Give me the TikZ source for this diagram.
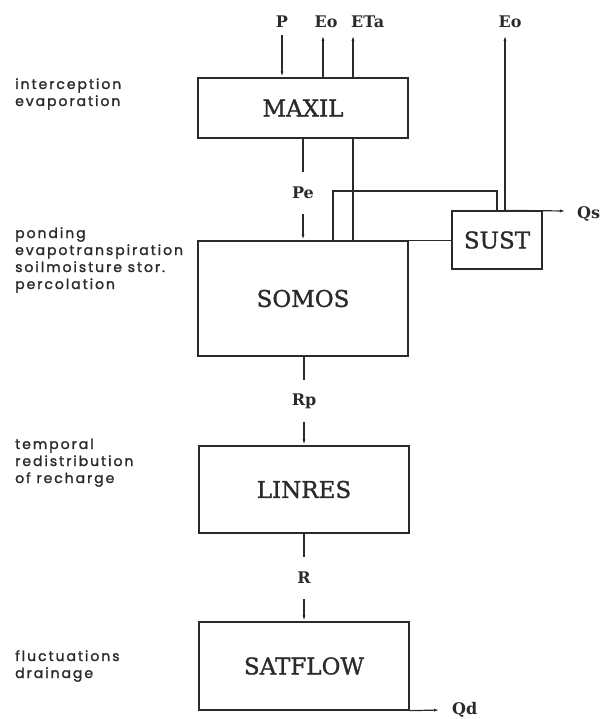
\documentclass[tikz,border=0pt]{standalone}
\usepackage{fontspec}
\usetikzlibrary{arrows.meta}
\newfontfamily\boxfont[FakeBold=1.2]{DejaVu Serif}
\newfontfamily\flowfont{DejaVu Serif}
\newfontfamily\sidefont[LetterSpace=14, FakeBold=1.6]{Poppins}
\definecolor{ink}{HTML}{2A2A2A}
\tikzset{
  x=1pt, y=-1pt,
  blk/.style={draw=ink, line width=1.3pt, minimum width=210pt, inner sep=0pt, font=\boxfont\fontsize{23}{23}\selectfont, text=ink},
  flow/.style={font=\flowfont\bfseries\fontsize{16}{16}\selectfont, text=ink, inner sep=0pt},
  gaplab/.style={flow, minimum height=42pt},
  side/.style={font=\sidefont\fontsize{14}{17}\selectfont, text=ink, align=left, inner sep=0pt, anchor=base west},
  ln/.style={draw=ink, line width=1.2pt},
  arr/.style={ln, -{Latex[length=6pt,width=3pt]}}
}
\begin{document}
\begin{tikzpicture}
\useasboundingbox (0,0) rectangle (603,719);
% boxes
\node[blk, minimum height=60pt] (maxil) at (303,108) {MAXIL};
\node[blk, minimum height=115pt] (somos) at (303,298.5) {SOMOS};
\node[blk, minimum width=90pt, minimum height=58pt] (sust) at (497,240) {SUST};
\node[blk, minimum height=87pt] (linres) at (304,489.5) {LINRES};
\node[blk, minimum height=88pt] (satflow) at (304,666) {SATFLOW};
% side texts
\node[side] (t1) at (15,106) {interception\\evaporation};
\node[side] (t2) at (15,289) {ponding\\evapotranspiration\\soilmoisture stor.\\percolation};
\node[side] (t3) at (15,483) {temporal\\redistribution\\of recharge};
\node[side] (t4) at (15,678) {fluctuations\\drainage};
% top labels
\node[flow, anchor=base] (lP) at (282,28) {P};
\node[flow, anchor=base] (lEo) at (326,28) {Eo};
\node[flow, anchor=base west] (lETa) at (351,28) {ETa};
\node[flow, anchor=base] (lEo2) at (510,28) {Eo};
\coordinate (cP) at (282,35);
\coordinate (cEo) at (323,35);
\coordinate (cETa) at (353,35);
\coordinate (cEo2) at (505,35);
\draw[arr] (cP) -- (cP |- maxil.north);
\draw[arr] (cEo |- maxil.north) -- (cEo);
\draw[arr] (cETa |- maxil.north) -- (cETa);
\draw[ln] (cETa |- somos.north) -- (cETa |- maxil.south);
% Pe
\node[gaplab] (lPe) at (303,193) {Pe};
\draw[ln] (maxil.south -| lPe) -- (lPe);
\draw[arr] (lPe) -- (lPe |- somos.north);
% SOMOS - SUST connections
\coordinate (loopA) at (333,191);
\draw[ln] (somos.north east) -- (sust.west |- somos.north east);
\draw[ln] (loopA |- somos.north) -- (loopA) -| (sust.north);
\draw[arr] (cEo2 |- sust.north) -- (cEo2);
\coordinate (cQs) at (566,211);
\draw[arr] (cEo2 |- sust.north) -- (cQs);
\node[flow, anchor=west] (lQs) at (577,214) {Qs};
% Rp
\node[gaplab] (lRp) at (304,401) {Rp};
\draw[ln] (somos.south -| lRp) -- (lRp);
\draw[arr] (lRp) -- (lRp |- linres.north);
% R
\node[gaplab] (lR) at (304,578) {R};
\draw[ln] (linres.south -| lR) -- (lR);
\draw[arr] (lR) -- (lR |- satflow.north);
% Qd
\coordinate (cQd) at (440,710);
\draw[arr] (satflow.south east) -- (cQd);
\node[flow, anchor=west] (lQd) at (452,710) {Qd};
\end{tikzpicture}
\end{document}
